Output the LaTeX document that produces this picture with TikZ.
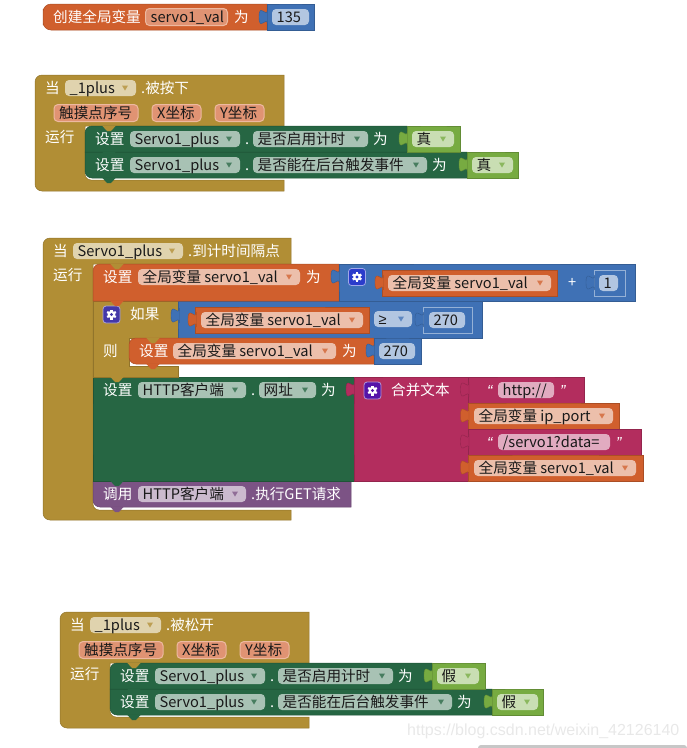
\documentclass[tikz,border=0pt]{standalone}
\usepackage{fontspec}
\setmainfont{Noto Sans CJK SC}
\newfontfamily\qfont{Liberation Sans}
\definecolor{cgold}{HTML}{B18E35}
\definecolor{corange}{HTML}{D05F2D}
\definecolor{cblue}{HTML}{3F71B5}
\definecolor{cgreen}{HTML}{266643}
\definecolor{clime}{HTML}{77AB41}
\definecolor{cmag}{HTML}{B32D5E}
\definecolor{cpurple}{HTML}{7C5385}
\definecolor{pgold}{HTML}{E0D3AE}
\definecolor{porange}{HTML}{ECBFAB}
\definecolor{pblue}{HTML}{B2C6E1}
\definecolor{pgreen}{HTML}{A8C2B4}
\definecolor{plime}{HTML}{C9DEB3}
\definecolor{pmag}{HTML}{E1ABC0}
\definecolor{ppurple}{HTML}{CBBACE}
\definecolor{pparam}{HTML}{E09373}
\definecolor{bparam}{HTML}{EDB9A0}
\definecolor{gmag}{HTML}{5514A8}
\definecolor{ggold}{HTML}{4438A8}
\definecolor{gblue}{HTML}{2B3CCB}
\newcount\nd
\newcommand\nx{\global\advance\nd by 1\relax}
\tikzset{
 txt/.style={inner sep=0pt,anchor=base west,font=\fontsize{14.6}{14.6}\selectfont},
 wtxt/.style={txt,text=white},
 ktxt/.style={txt,text=black!90},
 edge/.style={draw=#1!82!black,fill=#1,line width=.5pt}
}
% block: colour x1 y1 x2 y2 rTL rBL
\newcommand\bk[7]{\path[edge=#1,rounded corners=#7] ({#2},{(#3+#5)/2}) -- (#2,#5) [sharp corners] -- (#4,#5) -- (#4,#3) -- ({(#2+#4)/2},#3) [rounded corners=#6] -- (#2,#3) -- cycle;}
% input tab: x ytop colour
\newcommand\tb[3]{\path[edge=#3,line width=.4pt] (#1+.5,#2) .. controls (#1,#2+10) and (#1-8,#2-8) .. (#1-8,#2+7.5) .. controls (#1-8,#2+23) and (#1,#2+5) .. (#1+.5,#2+15) -- cycle;}
% statement bump: x0 y colour
\newcommand\bp[3]{\fill[#3] (#1+17,#2-.5) -- (#1+22,#2+5) -- (#1+26,#2+5) -- (#1+31,#2-.5) -- cycle;}
\newcommand\tw[3]{\nx\node[wtxt] (n\the\nd) at (#1,#2+5) {#3};}
\newcommand\qt[3]{\nx\node[wtxt] (n\the\nd) at (#1,#2+6) {\qfont\itshape\fontsize{16}{16}\selectfont #3};}
% pill without arrow: x1 x2 yc fill text
\newcommand\pl[5]{\fill[#4,rounded corners=4] (#1,#3-8) rectangle (#2,#3+8);
 \nx\node[ktxt] (n\the\nd) at (#1+4.5,#3+5) {#5};}
% pill with arrow: x1 x2 yc fill arrowcolour text
\newcommand\pa[6]{\pl{#1}{#2}{#3}{#4}{#6}
 \fill[#5!85!white] (#2-14,#3-2.5) -- (#2-8,#3-2.5) -- (#2-11,#3+2.5) -- cycle;}
% parameter pill
\newcommand\pp[4]{\path[fill=pparam,draw=bparam,line width=1pt,rounded corners=4] (#1,#3-8.5) rectangle (#2,#3+8.5);
 \nx\node[ktxt] (n\the\nd) at (#1+5,#3+5) {#4};}
% mutator gear: x1 y1 fill
\newcommand\gear[3]{\path[fill=#3,draw=white!55!#3,line width=.8pt,rounded corners=3] (#1,#2) rectangle (#1+17,#2+17);
 \foreach \a in {30,90,...,330}{\draw[white,line width=2.2pt] (#1+8.5,#2+8.5) -- ++(\a:5);}
 \fill[white] (#1+8.5,#2+8.5) circle (3.8);
 \fill[#3] (#1+8.5,#2+8.5) circle (1.7);}
\newcommand\vv{全局变量 servo1\_val}
% event block shape: x1 y1 x2 yh xc ybt yb
\newcommand\ev[7]{\path[edge=cgold,rounded corners=7] (#1,{(#2+#7)/2}) -- (#1,#2) [sharp corners] -- (#3,#2) -- (#3,#4) -- (#5,#4) [rounded corners=6] -- (#5,#6) [sharp corners] -- (#3,#6) -- (#3,#7) [rounded corners=7] -- (#1,#7) -- cycle;}
% the pressed / released hat: dx dy title
\newcommand\hatblk[3]{
 \ev{#1+35}{#2+75}{#1+284}{#2+126}{#1+85}{#2+180}{#2+191}
 \tw{#1+45}{#2+88}{当}
 \pa{#1+65}{#1+136}{#2+88}{pgold}{cgold}{\_1plus}
 \tw{#1+141}{#2+88}{#3}
 \pp{#1+54}{#1+138}{#2+113}{触摸点序号}
 \pp{#1+152}{#1+201}{#2+113}{X坐标}
 \pp{#1+215}{#1+264}{#2+113}{Y坐标}
 \tw{#1+45}{#2+137}{运行}
}
\begin{document}
\begin{tikzpicture}[x=1pt,y=-1pt]
\useasboundingbox (0,0) rectangle (687,748);
% ---------- global variable
\bk{corange}{43}{4}{267}{30}{8}{8}
\bk{cblue}{267}{4}{314}{30}{0}{0}
\tb{267}{9.5}{cblue}
\tw{53}{17}{创建全局变量}
\pp{145.5}{227.5}{17}{servo1\_val}
\tw{234}{17}{为}
\pl{272}{309}{17}{pblue}{135}
% ---------- pressed
\hatblk{0}{0}{.被按下}
\bk{cgreen}{85}{152}{467}{178}{0}{7}
\bk{cgreen}{85}{126}{407}{152}{7}{0}
\bk{clime}{467}{152}{518}{178}{0}{0}
\bk{clime}{407}{126}{460}{152}{0}{0}
\bp{85}{126}{cgold}
\bp{85}{152}{cgreen}
\bp{85}{178}{cgreen}
\tb{407}{131}{clime}
\tb{467}{157}{clime}
\tw{95}{139}{设置}
\pa{130}{240}{139}{pgreen}{cgreen}{Servo1\_plus}
\tw{245}{139}{.}
\pa{253}{368}{139}{pgreen}{cgreen}{是否启用计时}
\tw{373}{139}{为}
\pa{412}{454}{139}{plime}{clime}{真}
\tw{95}{165}{设置}
\pa{130}{240}{165}{pgreen}{cgreen}{Servo1\_plus}
\tw{245}{165}{.}
\pa{253}{427}{165}{pgreen}{cgreen}{是否能在后台触发事件}
\tw{432}{165}{为}
\pa{472}{513}{165}{plime}{clime}{真}
% ---------- timer
\path[edge=cgold,rounded corners=7] (43,380) -- (43,238) [sharp corners] -- (291,238) -- (291,264) -- (93,264) [rounded corners=6] -- (93,510) [sharp corners] -- (291,510) -- (291,520) [rounded corners=7] -- (43,520) -- cycle;
\tw{53}{251}{当}
\pa{73}{183}{251}{pgold}{cgold}{Servo1\_plus}
\tw{188}{251}{.到计时间隔点}
\tw{53}{275}{运行}
% purple call
\bk{cpurple}{93}{481}{351}{507}{0}{7}
\bp{93}{507}{cpurple}
\tw{103}{494}{调用}
\pa{138}{246}{494}{ppurple}{cpurple}{HTTP客户端}
\tw{251}{494}{.执行GET请求}
% green set
\bk{cgreen}{93}{377}{354}{481}{0}{0}
\bp{93}{481}{cgreen}
\tw{103}{390}{设置}
\pa{138}{246}{390}{pgreen}{cgreen}{HTTP客户端}
\tw{251}{390}{.}
\pa{259}{316}{390}{pgreen}{cgreen}{网址}
\tw{321}{390}{为}
% join
\bk{cmag}{354}{377}{468}{481}{0}{0}
\tb{354}{382}{cmag}
\gear{364}{382}{gmag}
\tw{391}{390}{合并文本}
\bk{cmag}{468}{377}{584}{403}{0}{0}
\tb{468.5}{382}{cmag}
\qt{487}{390}{“}
\pl{498}{554}{390}{pmag}{http://}
\qt{560}{390}{”}
\bk{corange}{468}{403}{619}{429}{0}{0}
\tb{468.5}{408}{corange}
\pa{474}{613}{416}{porange}{corange}{全局变量 ip\_port}
\bk{cmag}{468}{429}{641}{455}{0}{0}
\tb{468.5}{434}{cmag}
\qt{487}{442}{“}
\pl{498}{610}{442}{pmag}{/servo1?data=}
\qt{616}{442}{”}
\bk{corange}{468}{455}{643}{481}{0}{0}
\tb{468.5}{460}{corange}
\pa{474}{636}{468}{porange}{corange}{\vv}
% if
\path[edge=cgold] (93,301) -- (178,301) -- (178,338) -- (129,338) -- (129,366) -- (178,366) -- (178,377) -- (93,377) -- cycle;
\bp{93}{377}{cgold}
\gear{103}{306}{ggold}
\tw{130}{314}{如果}
\tw{103}{351}{则}
\bk{cblue}{178}{301}{482}{338}{0}{0}
\tb{179}{308}{cblue}
\bk{corange}{195}{307}{369}{333}{0}{0}
\tb{196}{312}{corange}
\pa{201}{363}{320}{porange}{corange}{\vv}
\pl{374}{412}{319}{pblue}{\qfont ≥}
\fill[cblue!85!white] (398,316.5) -- (404,316.5) -- (401,321.5) -- cycle;
\path[fill=cblue,draw=white!45!cblue,line width=.5pt] (423,307) rectangle (472,333);
\tb{423}{312}{cblue}
\pl{429}{465}{320}{pblue}{270}
% then
\bk{corange}{129}{338}{374}{364}{7}{7}
\bk{cblue}{374}{338}{421}{364}{0}{0}
\bp{129}{338}{cgold}
\bp{129}{364}{corange}
\tb{374}{343}{cblue}
\tw{139}{351}{设置}
\pa{173}{336}{351}{porange}{corange}{\vv}
\tw{342}{351}{为}
\pl{379}{415}{351}{pblue}{270}
% first set
\bk{corange}{93}{264}{339}{301}{7}{0}
\bk{cblue}{339}{264}{635}{301}{0}{0}
\bp{93}{264}{cgold}
\bp{93}{301}{corange}
\tb{339}{269}{cblue}
\tw{103}{277}{设置}
\pa{138}{300}{277}{porange}{corange}{\vv}
\tw{306}{277}{为}
\gear{348.5}{268.5}{gblue}
\bk{corange}{382}{270}{557}{296}{0}{0}
\tb{383}{275}{corange}
\pa{388}{551}{283}{porange}{corange}{\vv}
\tw{568}{282}{+}
\path[fill=cblue,draw=white!45!cblue,line width=.5pt] (594,270) rectangle (625,296);
\tb{594}{275}{cblue}
\pl{599}{618}{283}{pblue}{1}
% ---------- released
\hatblk{25}{537}{.被松开}
\bk{cgreen}{110}{689}{492}{715}{0}{7}
\bk{cgreen}{110}{663}{432}{689}{7}{0}
\bk{clime}{492}{689}{543}{715}{0}{0}
\bk{clime}{432}{663}{485}{689}{0}{0}
\bp{110}{663}{cgold}
\bp{110}{689}{cgreen}
\bp{110}{715}{cgreen}
\tb{432}{668}{clime}
\tb{492}{694}{clime}
\tw{120}{676}{设置}
\pa{155}{265}{676}{pgreen}{cgreen}{Servo1\_plus}
\tw{270}{676}{.}
\pa{278}{393}{676}{pgreen}{cgreen}{是否启用计时}
\tw{398}{676}{为}
\pa{437}{479}{676}{plime}{clime}{假}
\tw{120}{702}{设置}
\pa{155}{265}{702}{pgreen}{cgreen}{Servo1\_plus}
\tw{270}{702}{.}
\pa{278}{452}{702}{pgreen}{cgreen}{是否能在后台触发事件}
\tw{457}{702}{为}
\pa{497}{538}{702}{plime}{clime}{假}
% ---------- watermark and scroll bar
\nx\node[inner sep=0pt,anchor=base west,text=black!9,font=\qfont\fontsize{16}{16}\selectfont] (n\the\nd) at (407,735) {https://blog.csdn.net/weixin\_42126140};
\fill[black!22,rounded corners=3] (478,745) rectangle (687,752);
\end{tikzpicture}
\end{document}
